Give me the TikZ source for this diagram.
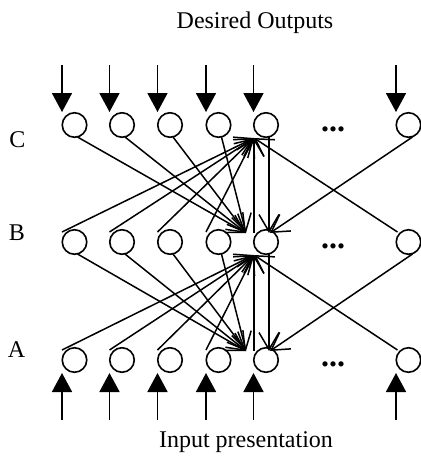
\documentclass[tikz,border=0pt]{standalone}
\usepackage{fontspec}
\setmainfont{Liberation Serif}
\usetikzlibrary{arrows.meta,calc}
\begin{document}
\begin{tikzpicture}[x=1pt,y=-1pt,
  neuron/.style={circle,draw,line width=1.6pt,minimum size=24.5pt,inner sep=0pt},
  conn/.style={line width=1.5pt,-{Straight Barb[length=17pt,width=20pt]}},
  io/.style={line width=1.7pt,-{Triangle[length=19pt,width=20pt]}},
  lbl/.style={font=\fontsize{24}{28}\selectfont,anchor=base,inner sep=0pt},
  dotsty/.style={font=\fontsize{32}{34}\selectfont\bfseries,anchor=base,inner sep=0pt}]
\useasboundingbox (0,0) rectangle (421,456);

\foreach \rw/\yy in {c/125,b/242,a/360} {
  \foreach \i/\xx in {1/74.5,2/122,3/170,4/218.5,5/266,6/408.5} {
    \node[neuron] (\rw\i) at (\xx,\yy) {};
  }
}

\node[dotsty] (dc) at (333,131) {...};
\node[dotsty] (db) at (333,248) {...};
\node[dotsty] (da) at (333,366) {...};

% desired outputs and input presentation arrows
\foreach \i in {1,...,6} {
  \draw[io] ($(c\i)+(-12.5,-60)$) -- ($(c\i)+(-12.5,-13)$);
  \draw[io] ($(a\i)+(-12.5,60)$) -- ($(a\i)+(-12.5,13)$);
}

% connections between layers
\foreach \ra/\rb in {c/b,b/a} {
  \foreach \i in {1,...,4} {
    \draw[conn] ($(\ra\i)+(3,12)$) -- ($(\rb5)+(-20,-9)$);
    \draw[conn] ($(\rb\i)+(-12.5,-10)$) -- ($(\ra5)+(-12,13)$);
  }
  \draw[conn] ($(\rb5)+(-12,-9)$) -- ($(\ra5)+(-12,13)$);
  \draw[conn] ($(\ra5)+(3,12)$) -- ($(\rb5)+(3,-9)$);
  \draw[conn] ($(\ra6)+(4,12)$) -- ($(\rb5)+(4,-9)$);
  \draw[conn] ($(\rb6)+(-11,-10)$) -- ($(\ra5)+(-12,13)$);
}

\node[lbl] (lc) at (17.5,147) {C};
\node[lbl] (lb) at (17,240) {B};
\node[lbl] (la) at (16.5,357) {A};
\node[lbl] (out) at (255,28) {Desired Outputs};
\node[lbl] (inp) at (246,447) {Input presentation};
\end{tikzpicture}
\end{document}
